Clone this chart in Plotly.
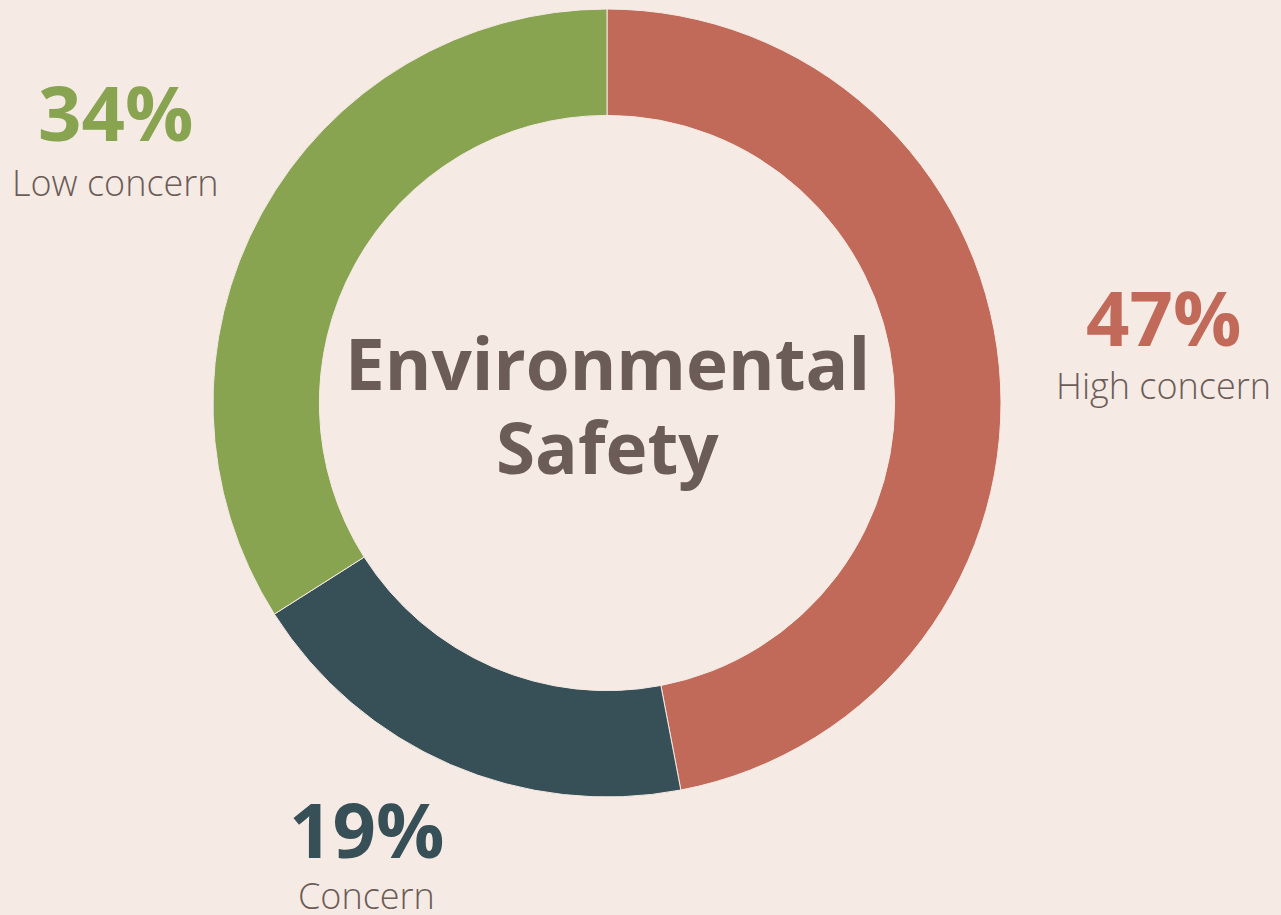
import plotly.graph_objects as go

categories = ["High concern", "Concern", "Low concern"]
values = [47, 19, 34]
pct_labels = ["47%", "19%", "34%"]
colors = ["#C26A5A", "#374F56", "#88A450"]
center_lines = ["Environmental", "Safety"]

W, H = 1281, 915
BG = "#F5EAE4"
TXT = "#6B5C58"
FONT = "Open Sans"

cx, cy, R = 607, 403, 394

fig = go.Figure(go.Pie(
    labels=categories, values=values, sort=False, direction="clockwise",
    rotation=0, hole=0.73, textinfo="none", hoverinfo="label+percent",
    marker=dict(colors=colors, line=dict(color="#F5EAE4", width=1)),
    domain=dict(x=[(cx - R) / W, (cx + R) / W], y=[(H - cy - R) / H, (H - cy + R) / H]),
    showlegend=False,
))

# label positions (pixel centers) for each category
label_pos = {"High concern": (1163, 316, 385), "Concern": (366, 828, 895), "Low concern": (115, 111, 182)}

ann = []
for cat, pct, col in zip(categories, pct_labels, colors):
    x, yp, yl = label_pos[cat]
    ann.append(dict(x=x / W, y=1 - yp / H, xref="paper", yref="paper", text=pct, showarrow=False,
                    xanchor="center", yanchor="middle",
                    font=dict(family=FONT, size=76, color=col, weight=700)))
    ann.append(dict(x=x / W, y=1 - yl / H, xref="paper", yref="paper", text=cat, showarrow=False,
                    xanchor="center", yanchor="middle",
                    font=dict(family=FONT, size=36, color=TXT, weight=300)))

for line, ypx in zip(center_lines, [362, 446]):
    ann.append(dict(x=cx / W, y=1 - ypx / H, xref="paper", yref="paper", text=line, showarrow=False,
                    xanchor="center", yanchor="middle",
                    font=dict(family=FONT, size=71, color=TXT, weight=700)))

fig.update_layout(
    width=W, height=H, margin=dict(l=0, r=0, t=0, b=0),
    paper_bgcolor=BG, plot_bgcolor=BG, annotations=ann,
)

fig.write_html("out.html", config={"displayModeBar": False},
               post_script="document.body.style.margin='0';document.body.style.background='#F5EAE4';")
